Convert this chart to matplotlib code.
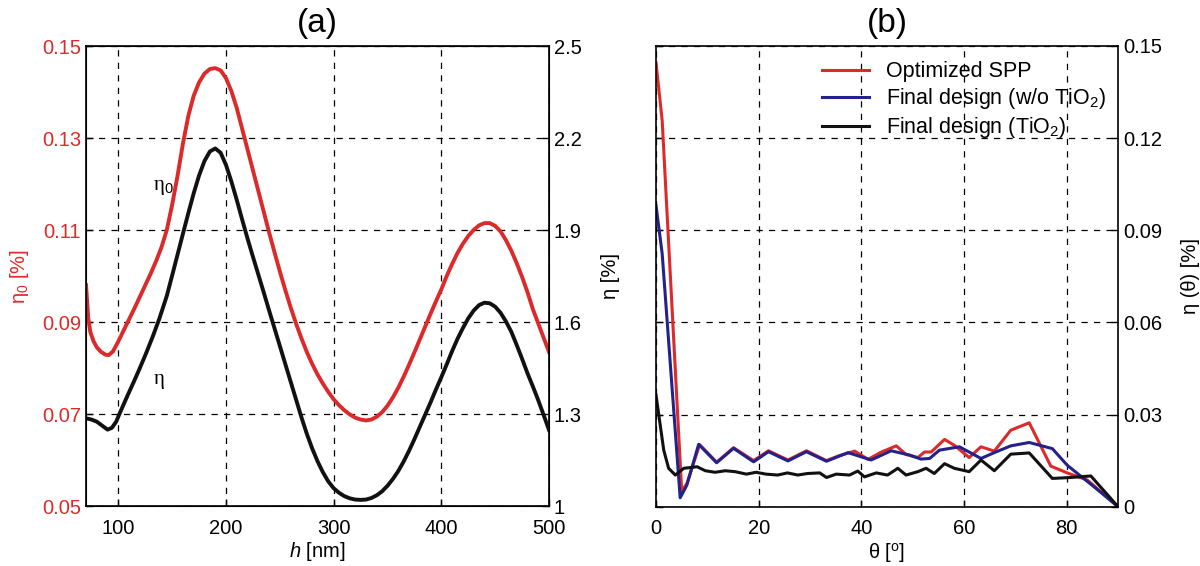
import matplotlib.pyplot as plt

plt.rcParams['font.family'] = ['Liberation Sans', 'DejaVu Sans']
plt.rcParams['mathtext.fontset'] = 'custom'
plt.rcParams['mathtext.rm'] = 'Liberation Sans'
plt.rcParams['mathtext.it'] = 'Liberation Sans:italic'

# Panel (a): efficiency vs. h
h_red = [70, 72, 74, 77, 80, 84, 88, 91, 95, 100, 105, 110, 115, 120, 125, 130, 135,
         140, 145, 150, 155, 160, 165, 170, 175, 180, 185, 190, 195, 200, 205, 210,
         215, 220, 225, 230, 235, 240, 245, 250, 255, 260, 265, 270, 275, 280, 285,
         290, 295, 300, 305, 310, 315, 320, 325, 330, 335, 340, 345, 350, 355, 360,
         365, 370, 375, 380, 385, 390, 395, 400, 405, 410, 415, 420, 425, 430, 435,
         440, 445, 450, 455, 460, 465, 470, 475, 480, 485, 490, 495, 500]
eta0 = [0.0980, 0.0910, 0.0878, 0.0858, 0.0845, 0.0835, 0.0829, 0.0828, 0.0836,
        0.0858, 0.0882, 0.0906, 0.0930, 0.0955, 0.0980, 0.1005, 0.1032, 0.1062,
        0.1100, 0.1155, 0.1218, 0.1288, 0.1348, 0.1392, 0.1421, 0.1440, 0.1450,
        0.1452, 0.1447, 0.1430, 0.1402, 0.1365, 0.1320, 0.1275, 0.1230, 0.1185,
        0.1140, 0.1095, 0.1052, 0.1010, 0.0970, 0.0932, 0.0897, 0.0865, 0.0835,
        0.0809, 0.0786, 0.0766, 0.0748, 0.0732, 0.0719, 0.0708, 0.0699, 0.0692,
        0.0688, 0.0686, 0.0688, 0.0694, 0.0704, 0.0718, 0.0736, 0.0757, 0.0781,
        0.0807, 0.0834, 0.0862, 0.0890, 0.0918, 0.0945, 0.0971, 0.1000, 0.1026,
        0.1050, 0.1070, 0.1087, 0.1100, 0.1110, 0.1115, 0.1115, 0.1109, 0.1097,
        0.1078, 0.1055, 0.1028, 0.0998, 0.0965, 0.0928, 0.0897, 0.0866, 0.0835]

h_blk = [70, 75, 80, 85, 90, 94, 98, 101, 108, 115, 120, 126, 132, 138, 145, 150,
         155, 160, 165, 170, 175, 180, 185, 190, 195, 200, 205, 210, 215, 220, 225,
         230, 235, 240, 245, 250, 255, 260, 265, 270, 275, 280, 285, 290, 295, 300,
         305, 310, 315, 320, 325, 330, 335, 340, 345, 350, 355, 360, 365, 370, 375,
         380, 385, 390, 395, 400, 405, 410, 415, 420, 425, 430, 435, 440, 445, 450,
         455, 460, 465, 470, 475, 480, 485, 490, 495, 500]
eta = [1.286, 1.282, 1.275, 1.262, 1.249, 1.255, 1.275, 1.300, 1.356, 1.410, 1.450,
       1.500, 1.553, 1.610, 1.685, 1.752, 1.820, 1.888, 1.955, 2.020, 2.078, 2.125,
       2.156, 2.166, 2.152, 2.112, 2.058, 1.998, 1.934, 1.872, 1.813, 1.755, 1.697,
       1.638, 1.580, 1.522, 1.464, 1.406, 1.348, 1.290, 1.236, 1.188, 1.146, 1.110,
       1.080, 1.058, 1.043, 1.032, 1.025, 1.021, 1.020, 1.021, 1.026, 1.035, 1.048,
       1.066, 1.088, 1.114, 1.145, 1.180, 1.218, 1.258, 1.298, 1.338, 1.380, 1.420,
       1.462, 1.505, 1.545, 1.580, 1.612, 1.637, 1.655, 1.663, 1.661, 1.650, 1.630,
       1.602, 1.568, 1.525, 1.480, 1.433, 1.390, 1.345, 1.297, 1.248]

# Panel (b): angular distribution
th_spp = [0, 1.2, 5.0, 6.0, 8.5, 11.8, 15.1, 19.0, 21.9, 25.7, 29.3, 33.2, 35.5,
          38.7, 41.3, 43.9, 46.8, 48.7, 51.0, 52.3, 53.6, 56.2, 58.1, 61.0, 63.3,
          65.9, 69.1, 72.7, 76.9, 80.4, 84.0, 90]
eta_spp = [0.1445, 0.1256, 0.0050, 0.0075, 0.0202, 0.0145, 0.0192, 0.0150, 0.0182,
           0.0152, 0.0182, 0.0150, 0.0165, 0.0181, 0.0154, 0.0178, 0.0198, 0.0170,
           0.0160, 0.0178, 0.0178, 0.0219, 0.0200, 0.0160, 0.0195, 0.0181, 0.0249,
           0.0273, 0.0132, 0.0108, 0.0087, 0.0]

th_wo = [0, 1.2, 4.7, 6.0, 8.3, 11.8, 15.1, 19.0, 21.9, 25.7, 29.3, 33.2, 37.4,
         41.9, 45.8, 49.4, 51.6, 53.3, 55.2, 59.1, 63.3, 65.9, 69.1, 72.7, 77.2,
         80.1, 85.3, 90]
eta_wo = [0.098, 0.0823, 0.0029, 0.0070, 0.0203, 0.0143, 0.0190, 0.0146, 0.0179,
          0.0149, 0.0179, 0.0148, 0.0176, 0.0152, 0.0182, 0.0168, 0.0155, 0.0157,
          0.0184, 0.0195, 0.0157, 0.0176, 0.0198, 0.0209, 0.0189, 0.0135, 0.0065, 0.0]

th_tio2 = [0, 1.5, 2.45, 3.75, 5.4, 8.0, 9.6, 11.5, 13.5, 15.4, 17.6, 19.5, 21.4,
           23.7, 25.6, 27.6, 29.5, 31.9, 33.2, 35.1, 37.7, 39.3, 40.6, 42.9, 45.1,
           47.1, 48.7, 51.0, 52.6, 54.2, 56.2, 58.1, 61.0, 63.3, 65.9, 69.1, 72.7,
           77.2, 80.8, 84.7, 90]
eta_tio2 = [0.0363, 0.0184, 0.0125, 0.0103, 0.0125, 0.0130, 0.0117, 0.0112, 0.0117,
            0.0114, 0.0106, 0.0112, 0.0106, 0.0103, 0.0110, 0.0103, 0.0108, 0.0110,
            0.0095, 0.0106, 0.0103, 0.0116, 0.0097, 0.0110, 0.0103, 0.0125, 0.0103,
            0.0114, 0.0125, 0.0108, 0.0140, 0.0125, 0.0114, 0.0152, 0.0117, 0.0171,
            0.0175, 0.0092, 0.0095, 0.0100, 0.0]

RED = '#dc2a2a'
BLUE = '#22228a'
BLACK = '#111111'
FS = 14.5

fig = plt.figure(figsize=(12, 5.66), dpi=100)


def style_axes(ax):
    for sp in ax.spines.values():
        sp.set_linewidth(1.2)
    ax.tick_params(direction='in', length=5, width=1, labelsize=FS)
    ax.tick_params(axis='x', pad=9)
    ax.grid(True, color='k', lw=0.9, ls=(0, (5, 5)))


# ---- (a)
ax1 = fig.add_axes([0.0717, 0.106, 0.3858, 0.8127])
ax1.plot(h_red, eta0, color=RED, lw=2.8, solid_joinstyle='round')
ax1.set_xlim(70, 500)
ax1.set_ylim(0.05, 0.15)
ax1.set_xticks([100, 200, 300, 400, 500])
ax1.set_yticks([0.05, 0.07, 0.09, 0.11, 0.13, 0.15])
ax1.set_yticklabels(['0.05', '0.07', '0.09', '0.11', '0.13', '0.15'])
style_axes(ax1)
ax1.tick_params(axis='y', labelcolor=RED)
ax1.set_xlabel('$h$ [nm]', fontsize=FS, labelpad=2)
ax1.set_ylabel('η$_0$ [%]', fontsize=FS, color=RED, labelpad=8)
ax1.set_title('(a)', fontsize=24, pad=10)
ax1.text(132, 0.1187, 'η$_0$', fontsize=15, family='Liberation Serif')
ax1.text(133, 0.0765, 'η', fontsize=15, family='Liberation Serif')

ax1r = ax1.twinx()
ax1r.plot(h_blk, eta, color=BLACK, lw=2.8, solid_joinstyle='round')
ax1r.set_ylim(1, 2.5)
ax1r.set_yticks([1, 1.3, 1.6, 1.9, 2.2, 2.5])
ax1r.set_yticklabels(['1', '1.3', '1.6', '1.9', '2.2', '2.5'])
ax1r.tick_params(direction='in', length=5, width=1, labelsize=FS)
ax1r.set_ylabel('η [%]', fontsize=FS, labelpad=14)

# ---- (b)
ax2 = fig.add_axes([0.5467, 0.1048, 0.385, 0.814])
ax2.plot(th_spp, eta_spp, color=RED, lw=2.2, label='Optimized SPP')
ax2.plot(th_wo, eta_wo, color=BLUE, lw=2.2, label='Final design (w/o TiO$_2$)')
ax2.plot(th_tio2, eta_tio2, color=BLACK, lw=2.2, label='Final design (TiO$_2$)')
ax2.set_xlim(0, 90)
ax2.set_ylim(0, 0.15)
ax2.set_xticks([0, 20, 40, 60, 80])
ax2.set_yticks([0, 0.03, 0.06, 0.09, 0.12, 0.15])
ax2.set_yticklabels(['0', '0.03', '0.06', '0.09', '0.12', '0.15'])
style_axes(ax2)
ax2.tick_params(axis='y', left=True, right=True, labelleft=False, labelright=True)
ax2.yaxis.set_label_position('right')
ax2.set_ylabel('η (θ) [%]', fontsize=FS, labelpad=14)
ax2.set_xlabel('θ [$^{\\mathrm{o}}$]', fontsize=FS, labelpad=2)
ax2.set_title('(b)', fontsize=24, pad=10)
ax2.legend(loc='upper left', bbox_to_anchor=(0.34, 0.985), frameon=False,
           fontsize=15.5, handlelength=2.2, handletextpad=0.8, labelspacing=0.18,
           borderaxespad=0)

fig.savefig('out.png', dpi=100)
